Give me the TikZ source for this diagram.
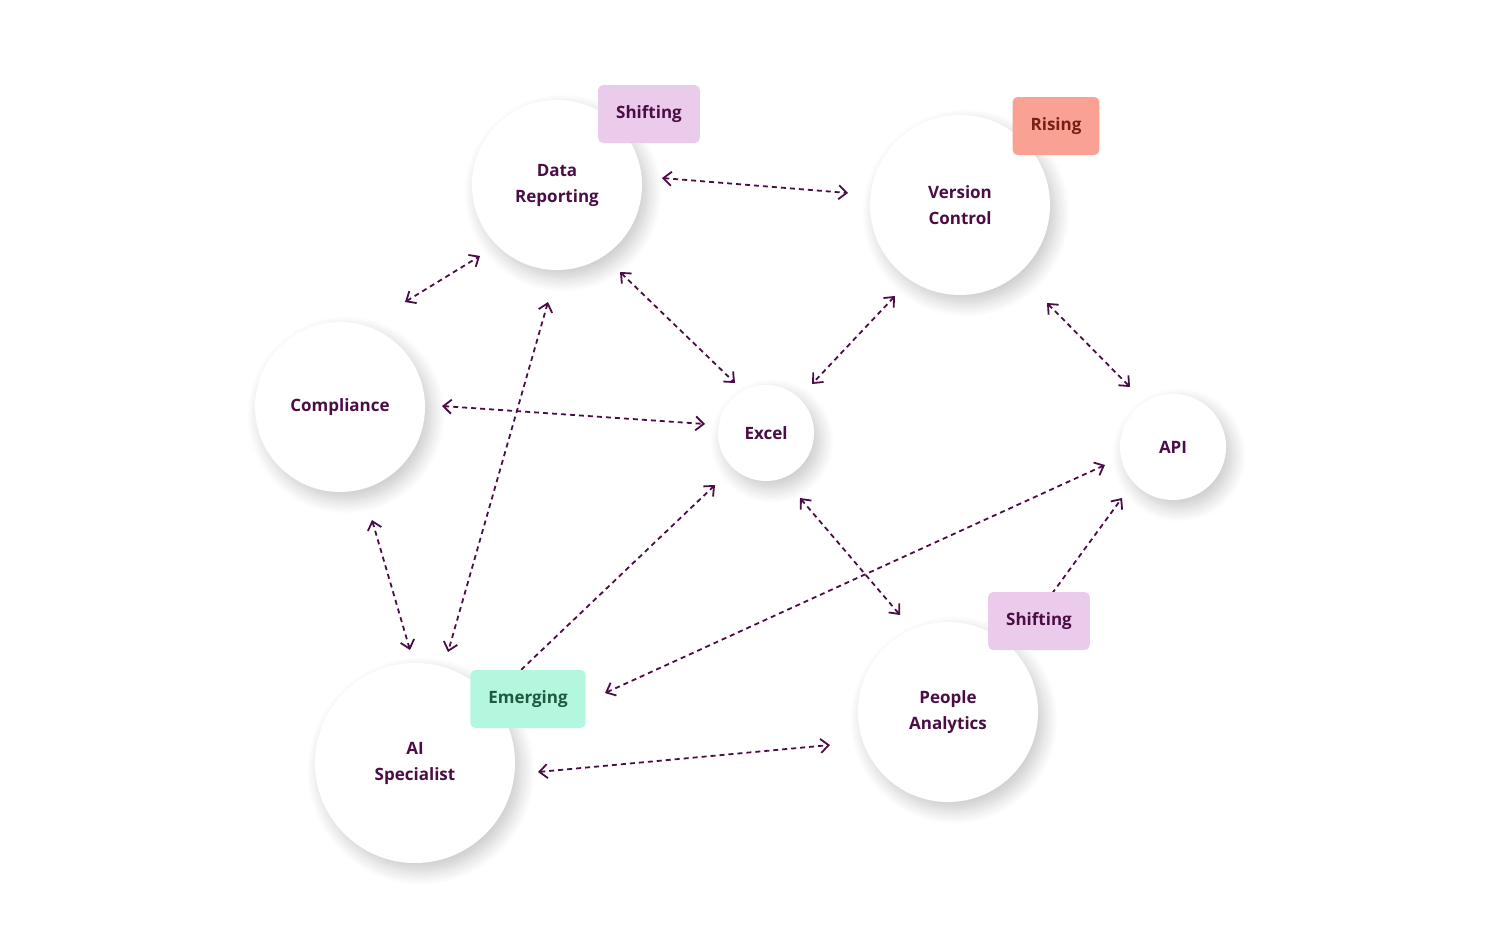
\documentclass[tikz,border=0pt]{standalone}
\usepackage{fontspec}
\setmainfont{Open Sans}
\usetikzlibrary{shadows.blur,arrows.meta}
\definecolor{txt}{HTML}{4A0E45}
\definecolor{shift}{HTML}{EBCBEB}
\definecolor{rise}{HTML}{F9A192}
\definecolor{riset}{HTML}{7A1E14}
\definecolor{emer}{HTML}{B3F7DF}
\definecolor{emert}{HTML}{1F5A40}
\tikzset{
 bub/.style={circle,fill=white,minimum size=#1,inner sep=0pt,align=center,font=\bfseries\fontsize{17}{26}\selectfont,text=txt,
   blur shadow={shadow xshift=6pt,shadow yshift=-8pt,shadow blur steps=12,shadow blur radius=14pt,shadow opacity=22}},
 tag/.style={rounded corners=5pt,fill=#1,minimum height=58pt,inner xsep=18pt,font=\bfseries\fontsize{17}{20}\selectfont},
 lnk/.style={draw=txt,line width=1.8pt,dash pattern=on 5pt off 4pt,{Straight Barb[length=8pt,width=14pt,line width=1.8pt]}-{Straight Barb[length=8pt,width=14pt,line width=1.8pt]}}
}
\begin{document}
\begin{tikzpicture}[x=1pt,y=-1pt]
\useasboundingbox (0,0) rectangle (1485,948);
\node[bub=170pt] (dr) at (557,185) {Data\\Reporting};
\node[bub=180pt] (vc) at (960,205) {Version\\Control};
\node[bub=170pt] (co) at (340,407) {Compliance};
\node[bub=96pt] (ex) at (766,433) {Excel};
\node[bub=106pt] (api) at (1173,447) {API};
\node[bub=200pt] (ai) at (415,763) {AI\\Specialist};
\node[bub=180pt] (pa) at (948,712) {People\\Analytics};
\foreach \n/\a/\b in {1/{662,178}/{848,193},2/{405,302}/{480,256},3/{620,272}/{735,383},4/{548,302}/{448,652},
 5/{442,406}/{705,424},6/{895,296}/{812,384},7/{1047,303}/{1130,387},8/{372,520}/{410,650},9/{500,690}/{715,485},
 10/{800,498}/{900,615},11/{605,693}/{1105,465},12/{1040,610}/{1122,498},13/{538,772}/{830,745}}{
 \coordinate (s\n) at (\a); \coordinate (e\n) at (\b);
 \draw[lnk] (s\n) -- (e\n);}
\node[tag=shift,text=txt] (t1) at (649,114) {Shifting};
\node[tag=rise,text=riset] (t2) at (1056,126) {Rising};
\node[tag=shift,text=txt] (t3) at (1039,621) {Shifting};
\node[tag=emer,text=emert] (t4) at (528,699) {Emerging};
\end{tikzpicture}
\end{document}
